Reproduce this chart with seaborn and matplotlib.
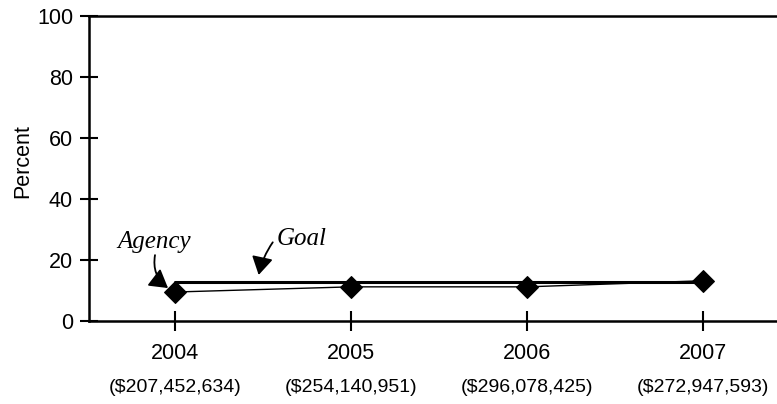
import numpy as np
import pandas as pd
import matplotlib
matplotlib.use("Agg")
import matplotlib.pyplot as plt
import matplotlib.transforms as mtransforms
import seaborn as sns

# chart data
years = ["2004", "2005", "2006", "2007"]
dollars = ["($207,452,634)", "($254,140,951)", "($296,078,425)", "($272,947,593)"]
agency = [9.5, 11.2, 11.2, 13.2]
goal = [12.7, 12.7, 12.7, 12.7]

sns.set_style("white")
plt.rcParams["font.family"] = ["Liberation Sans", "DejaVu Sans"]
plt.rcParams["text.color"] = "black"

df = pd.DataFrame({"pos": np.arange(len(years)), "agency": agency, "goal": goal})

fig = plt.figure(figsize=(7.77, 4.04), dpi=100)
ax = fig.add_axes([89 / 777, 1 - 321 / 404, 1 - 89 / 777, (321 - 16) / 404])

sns.lineplot(data=df, x="pos", y="goal", ax=ax, color="black", lw=2.2)
sns.lineplot(data=df, x="pos", y="agency", ax=ax, color="black", lw=1.0,
             marker="D", markersize=11, markeredgecolor="black")

ax.set_xlim(-0.489, 3.42)
ax.set_ylim(0, 100)
ax.set_yticks(range(0, 101, 20))
ax.set_xticks(df["pos"])
ax.set_xticklabels(years, fontsize=15.5)
ax.tick_params(axis="y", left=True, labelsize=15.5, labelcolor="black", color="black",
               direction="inout", length=13, width=1.5, pad=5)
ax.tick_params(axis="x", bottom=True, labelcolor="black", color="black",
               direction="inout", length=14, width=1.5, pad=9)
ax.set_xlabel("")
ax.set_ylabel("Percent", fontsize=15.5, color="black")
ax.yaxis.set_label_coords(-0.081, 0.525)

for side in ["left", "bottom", "top"]:
    ax.spines[side].set_linewidth(1.8)
    ax.spines[side].set_color("black")
ax.spines["right"].set_visible(False)

# dollar amounts under the years
trans = mtransforms.blended_transform_factory(ax.transData, ax.transAxes)
for i, d in enumerate(dollars):
    ax.text(i, -0.218, d, transform=trans, ha="center", va="center", fontsize=14)

serif = ["Liberation Serif", "DejaVu Serif"]
arrow = dict(arrowstyle="-|>,head_length=1.1,head_width=0.65", color="black", lw=1.3,
             shrinkA=0, shrinkB=0)
ax.text(-0.12, 26, "Agency", family=serif, style="italic", fontsize=18,
        ha="center", va="center")
ax.annotate("", xy=(-0.04, 10.8), xytext=(-0.114, 21.6),
            arrowprops=dict(connectionstyle="arc3,rad=0.3", **arrow))
ax.text(0.72, 27, "Goal", family=serif, style="italic", fontsize=18,
        ha="center", va="center")
ax.annotate("", xy=(0.475, 15.1), xytext=(0.555, 25.8),
            arrowprops=dict(connectionstyle="arc3,rad=0.1", **arrow))

plt.savefig("out.png", dpi=100)
